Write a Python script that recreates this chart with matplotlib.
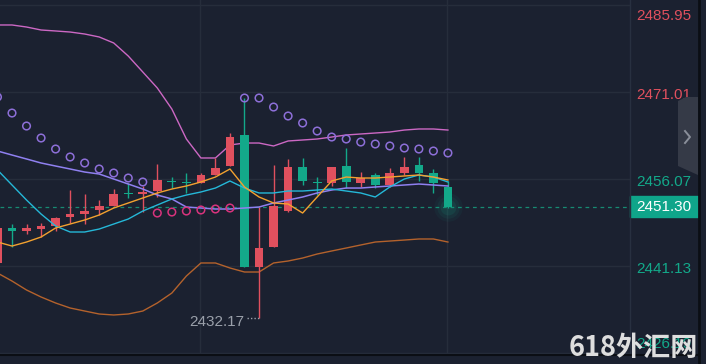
import numpy as np
import matplotlib
matplotlib.use('Agg')
import matplotlib.pyplot as plt
from matplotlib.patches import Rectangle, Polygon
from matplotlib.transforms import blended_transform_factory, offset_copy

# candle index, -1 is the one cut off at the left edge
idx = np.arange(-1, 31)
opens = [2441.65, 2447.66, 2447.14, 2447.48, 2448.00, 2449.54, 2450.06, 2450.75,
         2451.43, 2453.67, 2453.49, 2454.01, 2455.73, 2455.56, 2455.38, 2456.76,
         2458.30, 2463.63, 2440.96, 2444.39, 2450.57, 2458.13, 2455.56, 2455.38,
         2458.30, 2455.38, 2456.76, 2455.04, 2457.10, 2458.47, 2457.10, 2454.70]
highs = [2448.00, 2448.34, 2448.34, 2448.51, 2449.54, 2454.18, 2453.49, 2452.46,
         2454.35, 2455.38, 2454.87, 2458.65, 2456.41, 2457.10, 2457.10, 2459.68,
         2463.97, 2469.98, 2451.26, 2458.47, 2459.51, 2459.68, 2456.41, 2458.13,
         2461.39, 2457.27, 2457.10, 2457.96, 2459.85, 2459.85, 2457.79, 2455.73]
lows = [2441.30, 2444.39, 2446.63, 2446.11, 2447.14, 2448.51, 2448.34, 2449.89,
        2451.43, 2452.81, 2450.40, 2452.98, 2454.52, 2453.67, 2455.38, 2456.76,
        2458.30, 2440.96, 2432.17, 2444.39, 2450.40, 2455.04, 2453.32, 2454.87,
        2454.52, 2454.70, 2454.52, 2454.70, 2456.76, 2455.73, 2453.67, 2451.09]
closes = [2447.66, 2447.14, 2447.66, 2448.00, 2449.37, 2450.06, 2450.57, 2451.43,
          2453.49, 2453.49, 2453.84, 2455.90, 2455.56, 2455.38, 2456.76, 2457.96,
          2463.28, 2440.96, 2444.22, 2451.43, 2458.13, 2455.73, 2455.38, 2458.13,
          2455.56, 2456.24, 2455.04, 2457.10, 2458.13, 2457.10, 2455.38, 2451.30]

bb_upper = [2482.52, 2482.52, 2482.17, 2481.66, 2481.49, 2481.31, 2480.97, 2480.46,
            2479.43, 2477.19, 2474.45, 2471.70, 2468.09, 2462.94, 2459.68, 2459.68,
            2461.91, 2462.25, 2462.25, 2461.74, 2462.60, 2462.77, 2462.94, 2463.28,
            2463.63, 2463.80, 2463.97, 2464.14, 2464.48, 2464.66, 2464.66, 2464.48]
bb_lower = [2439.93, 2438.55, 2437.01, 2435.81, 2434.78, 2433.92, 2433.40, 2432.89,
            2432.72, 2432.89, 2433.40, 2434.78, 2436.49, 2439.41, 2441.65, 2441.65,
            2440.79, 2440.10, 2440.10, 2441.65, 2441.99, 2442.50, 2443.19, 2443.71,
            2444.22, 2444.74, 2445.25, 2445.42, 2445.59, 2445.77, 2445.77, 2445.25]
ma_slow = [2460.88, 2460.19, 2459.51, 2458.82, 2458.30, 2457.79, 2457.27, 2456.93,
           2456.07, 2455.21, 2454.35, 2453.32, 2452.64, 2451.26, 2451.09, 2450.92,
           2450.92, 2451.09, 2451.26, 2451.95, 2452.46, 2452.98, 2453.67, 2454.18,
           2454.52, 2454.52, 2454.70, 2454.87, 2455.04, 2455.21, 2455.04, 2454.87]
ma_mid = [2457.62, 2455.04, 2452.46, 2450.06, 2448.00, 2446.97, 2446.97, 2447.48,
          2448.34, 2449.20, 2450.57, 2451.61, 2452.64, 2453.32, 2453.84, 2454.52,
          2455.73, 2454.52, 2453.67, 2453.67, 2454.01, 2454.01, 2454.18, 2454.35,
          2454.01, 2453.67, 2452.98, 2454.70, 2456.07, 2456.76, 2456.41, 2455.56]
ma_fast = [2445.25, 2444.56, 2445.25, 2446.11, 2447.66, 2448.34, 2449.03, 2449.89,
           2451.09, 2451.95, 2452.81, 2453.67, 2454.35, 2454.87, 2455.56, 2456.41,
           2457.79, 2454.70, 2452.98, 2451.95, 2451.78, 2450.23, 2452.98, 2455.73,
           2456.41, 2456.24, 2456.24, 2456.41, 2456.59, 2456.76, 2456.41, 2455.90]
sar = [2470.15, 2467.40, 2465.17, 2463.11, 2461.22, 2459.85, 2458.82, 2457.79,
       2457.10, 2456.24, 2455.56, 2450.23, 2450.40, 2450.57, 2450.75, 2450.92,
       2451.09, 2469.98, 2469.98, 2468.43, 2466.89, 2465.69, 2464.31, 2463.28,
       2462.94, 2462.42, 2462.08, 2461.74, 2461.39, 2461.22, 2460.88, 2460.54]

levels = [2485.95, 2471.01, 2456.07, 2441.13, 2426.19]
level_labels = ['2485.95', '2471.01', '2456.07', '2441.13', '2426.19']
last_price = 2451.30
low_price = 2432.17

BG = '#1b2130'
GRID = '#262d3b'
UP = '#e0505e'
DOWN = '#13a98a'
FONT = 'Liberation Sans'

fig = plt.figure(figsize=(7.06, 3.64), dpi=100, facecolor=BG)
ax = fig.add_axes([0, 10 / 364, 630 / 706, 354 / 364], facecolor=BG)
ax.set_xlim(-0.826, 42.53)
ax.set_ylim(2426.02, 2486.81)
for s in ax.spines.values():
    s.set_visible(False)
ax.set_xticks([])
ax.set_yticks([])

# grid
for lv in levels:
    ax.axhline(lv, color=GRID, lw=1.0, zorder=0)
for gx in [12.95, 29.95]:
    ax.axvline(gx, color=GRID, lw=1.0, zorder=0)

# last price dashed line
ax.axhline(last_price, color='#178a72', lw=0.9, ls=(0, (3, 3)), zorder=1)

# bands and averages
ax.plot(idx, bb_upper, color='#cc68c4', lw=1.0, zorder=2)
ax.plot(idx, bb_lower, color='#b4622c', lw=1.0, zorder=2)
ax.plot(idx, ma_slow, color='#8f80f0', lw=1.1, zorder=4)
ax.plot(idx, ma_mid, color='#25b8d8', lw=1.0, zorder=4)
ax.plot(idx, ma_fast, color='#f3a12f', lw=1.0, zorder=4)

# candles
o = np.array(opens); c = np.array(closes)
cols = [UP if cc >= oo else DOWN for oo, cc in zip(o, c)]
ax.vlines(idx, lows, highs, colors=cols, lw=1.0, zorder=3)
body = np.maximum(np.abs(c - o), 0.18)
ax.bar(idx, body, bottom=np.minimum(o, c), width=0.6, color=cols, lw=0, zorder=3)

# parabolic SAR
sar = np.array(sar)
below = sar < c
ax.scatter(idx[~below], sar[~below], s=30, facecolors='none', edgecolors='#8d6fd8',
           linewidths=1.1, zorder=5)
ax.scatter(idx[below], sar[below], s=30, facecolors='none', edgecolors='#d9337d',
           linewidths=1.1, zorder=5)

# glow at last candle
for s, a in [(420, 0.06), (260, 0.08), (130, 0.12)]:
    ax.scatter([idx[-1]], [last_price], s=s, color='#13a98a', alpha=a, lw=0, zorder=2)

# lowest price marker
lo_i = idx[int(np.argmin(lows))]
ax.plot([lo_i - 0.85, lo_i], [low_price, low_price], color='#9aa0aa', lw=1.0,
        ls=(0, (1, 1.5)), zorder=3)
ax.text(lo_i - 1.05, low_price, '%.2f' % low_price,
        transform=offset_copy(ax.transData, fig=fig, x=0, y=-4, units='dots'),
        ha='right', va='center', color='#9aa0aa', fontsize=11, family=FONT)

# right price scale
tr = blended_transform_factory(ax.transAxes, ax.transData)
ylo, yhi = ax.get_ylim()
for lv, lab in zip(levels, level_labels):
    ypos = min(max(lv, ylo + 2.3), yhi - 2.3)
    colr = UP if lv > last_price + 10 else DOWN
    ax.text(636 / 630, ypos, lab, transform=offset_copy(tr, fig=fig, x=0, y=-3, units='dots'),
            ha='left', va='center', color=colr, fontsize=11, family=FONT, clip_on=False)
ax.add_patch(Rectangle((1.0, last_price - 1.8), 68 / 630, 3.6, transform=tr,
                       color='#0fa58a', clip_on=False, zorder=6))
ax.text(636 / 630, last_price, '%.2f' % last_price, transform=tr, ha='left',
        va='center', color='white', fontsize=11, family=FONT, clip_on=False, zorder=7)

# overlay in pixel coordinates for frame pieces
ov = fig.add_axes([0, 0, 1, 1], facecolor='none')
ov.set_xlim(0, 706)
ov.set_ylim(364, 0)
ov.axis('off')
ov.plot([630, 630], [0, 354], color='#283040', lw=1.0)
ov.plot([699, 699], [0, 364], color='#0b0e14', lw=2.0)
ov.plot([0, 699], [354.5, 354.5], color='#0b0e14', lw=1.5)
ov.add_patch(Polygon([(678, 101), (686, 97), (698, 97), (698, 175), (678, 166)],
                     closed=True, color='#353a47', lw=0))
ov.plot([685, 690, 685], [131, 137, 143], color='#8a8f9a', lw=1.4)
ov.text(698, 362, '618外汇网', ha='right', va='bottom', color='#dedede',
        fontsize=19.5, fontweight='bold', family=['Noto Sans CJK SC', 'DejaVu Sans'])

fig.savefig('out.png', dpi=100, facecolor=BG)
